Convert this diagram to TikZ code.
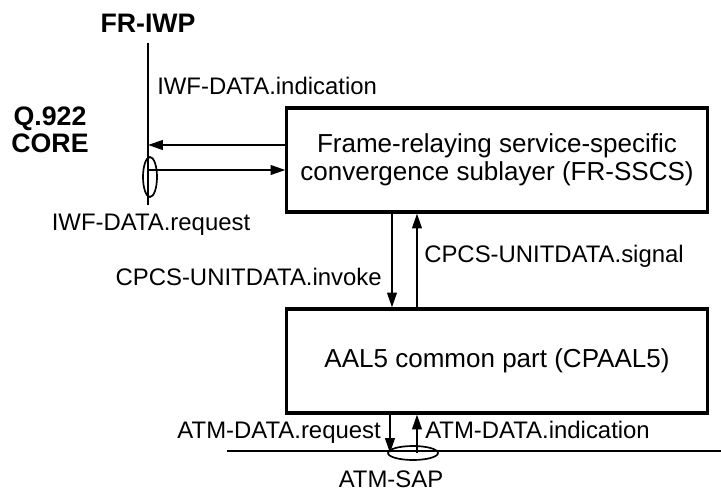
\documentclass[tikz,border=0pt]{standalone}
\usepackage{fontspec}
\setmainfont{Liberation Sans}
\usepackage{tikz}
\usetikzlibrary{
  arrows.meta, shapes.geometric, positioning, calc
}
\tikzset{
	layerbox/.style={draw, line width=2.2pt, minimum width=10.5cm, minimum height=2.6cm,
	  align=center, font=\fontsize{18.5}{20}\selectfont}
}
\tikzset{
	labeltext/.style={font=\fontsize{17}{19}\selectfont, inner sep=0pt}
}
\tikzset{
	bigtext/.style={font=\fontsize{19}{19.5}\selectfont\bfseries, align=center, inner sep=0pt}
}
\tikzset{
	primarrow/.style={line width=1.5pt, -{Triangle[length=0.37cm, width=0.24cm]}}
}
\tikzset{
	sapring/.style={draw, ellipse, line width=1.2pt, inner sep=0pt}
}

\begin{document}
\begin{tikzpicture}[x=0.025cm, y=-0.025cm]
  \useasboundingbox (0,0) rectangle (721,492);
  \node[layerbox] (sscs) at (497,160) {Frame-relaying service-specific\\convergence sublayer (FR-SSCS)};
  \node[layerbox] (cpaal) at (497,361) {AAL5 common part (CPAAL5)};
  % FR-IWP side
  \node[bigtext, anchor=base] (iwp) at (148,33) {FR-IWP};
  \node[bigtext] (core) at (50,130) {Q.922\\CORE};
  \node[sapring, minimum width=0.35cm, minimum height=1cm] (frsap) at (150,177) {};
  \coordinate (iwptop) at (148,43);
  \coordinate (iwpbot) at (148,205);
  \draw[line width=1.8pt] (iwptop) -- (iwpbot);
  \coordinate (ind) at ([yshift=0.375cm]sscs.west);
  \coordinate (req) at ([yshift=-0.25cm]sscs.west);
  \draw[primarrow] (ind) -- (ind -| iwptop);
  \draw[primarrow] (req -| iwptop) -- (req);
  \node[labeltext, anchor=base west] (indlabel) at (157,95) {IWF-DATA.indication};
  \node[labeltext, anchor=base] (reqlabel) at (151,230) {IWF-DATA.request};
  % between the two layers
  \draw[primarrow] ([xshift=-2.625cm]sscs.south) -- ([xshift=-2.625cm]cpaal.north);
  \draw[primarrow] ([xshift=-2cm]cpaal.north) -- ([xshift=-2cm]sscs.south);
  \node[labeltext, anchor=base east] (invoke) at (382,285) {CPCS-UNITDATA.invoke};
  \node[labeltext, anchor=base west] (signal) at (424,262) {CPCS-UNITDATA.signal};
  % ATM-SAP
  \coordinate (sapleft) at (227,451);
  \coordinate (sapright) at (721,451);
  \draw[line width=1.5pt] (sapleft) -- (sapright);
  \node[sapring, minimum width=1.25cm, minimum height=0.35cm] (atmsap) at (413,453) {};
  \coordinate (dn) at ([xshift=-2.675cm]cpaal.south);
  \coordinate (up) at ([xshift=-2cm]cpaal.south);
  \draw[primarrow] (dn) -- (dn |- atmsap.center);
  \draw[primarrow] (up |- atmsap.center) -- (up);
  \node[labeltext, anchor=base east] (atmreq) at (381,438) {ATM-DATA.request};
  \node[labeltext, anchor=base west] (atmind) at (425,438) {ATM-DATA.indication};
  \node[labeltext, anchor=base] (atmlabel) at (391,487) {ATM-SAP};
\end{tikzpicture}
\end{document}
